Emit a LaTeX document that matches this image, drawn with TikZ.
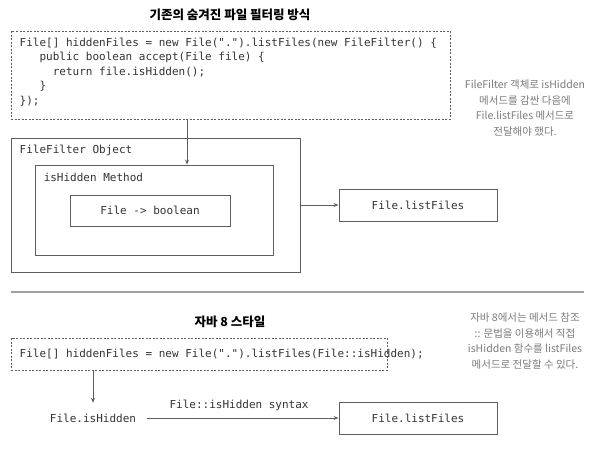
\documentclass[tikz,border=0pt]{standalone}
\usepackage{fontspec}
\setmonofont{DejaVu Sans Mono}
\newfontfamily\krfont{Noto Sans CJK KR}
\usepackage{tikz}
\usetikzlibrary{arrows.meta,positioning,calc}
\definecolor{line-gray}{HTML}{5E5E5E}
\definecolor{text-gray}{HTML}{333333}
\definecolor{note-gray}{HTML}{7A7A7A}
\definecolor{rule-gray}{HTML}{A0A0A0}
\tikzstyle{codefont}=[font=\ttfamily\fontsize{11}{14.5}\selectfont, text=text-gray]
\tikzstyle{box}=[draw=line-gray, line width=0.9pt, inner sep=0pt, codefont]
\tikzstyle{dashbox}=[box, dash pattern=on 2pt off 1.5pt]
\tikzstyle{heading}=[font=\krfont\bfseries\fontsize{12.5}{15}\selectfont, text=black]
\tikzstyle{note}=[font=\krfont\fontsize{10.5}{15.5}\selectfont, text=note-gray, align=center]
\tikzstyle{flow}=[draw=line-gray, line width=0.9pt, -{Stealth[length=5pt,width=4pt]}]

\begin{document}
\begin{tikzpicture}[x=1pt, y=-1pt]
	\useasboundingbox (0,0) rectangle (599,471);
	% old way
	\node[heading] (title1) at (230,15) {기존의 숨겨진 파일 필터링 방식};
	\node[dashbox, minimum width=439pt, minimum height=88pt] (code1) at (230.5,75) {};
	\node[codefont, anchor=north west, align=left, inner sep=0pt] (code1txt) at ($(code1.north west)+(9,7)$)
		{File[] hiddenFiles = new File(".").listFiles(new FileFilter() \{\\
		\phantom{xxx}public boolean accept(File file) \{\\
		\phantom{xxxxx}return file.isHidden();\\
		\phantom{xxx}\}\\
		\});};
	\node[box, minimum width=289pt, minimum height=134pt] (filterobj) at (155.5,205) {};
	\node[codefont, anchor=north west, inner sep=0pt] (filterlbl) at ($(filterobj.north west)+(9,7)$) {FileFilter Object};
	\node[box, minimum width=238pt, minimum height=90pt] (method) at (154,210) {};
	\node[codefont, anchor=north west, inner sep=0pt] (methodlbl) at ($(method.north west)+(9,8)$) {isHidden Method};
	\node[box, minimum width=160pt, minimum height=31pt] (lambda) at (150,210.5) {File -> boolean};
	\node[box, minimum width=158pt, minimum height=32pt] (list1) at (418,205) {File.listFiles};
	\coordinate (drop1) at (187,0);
	\draw[flow] (code1.south -| drop1) -- (method.north -| drop1);
	\draw[flow] (filterobj.east) -- (list1.west);
	\node[note] (note1) at (525,108) {FileFilter 객체로 isHidden\\메서드를 감싼 다음에\\File.listFiles 메서드로\\전달해야 했다.};
	% divider
	\draw[rule-gray, line width=1.6pt] (11,292) -- (584,292);
	% java 8
	\node[heading] (title2) at (230,322) {자바 8 스타일};
	\node[dashbox, minimum width=376pt, minimum height=32pt] (code2) at (199,354) {};
	\node[codefont, anchor=west, inner sep=0pt] (code2txt) at ($(code2.west)+(9,0)$)
		{File[] hiddenFiles = new File(".").listFiles(File::isHidden);};
	\node[note] (note2) at (525,341) {자바 8에서는 메서드 참조\\:: 문법을 이용해서 직접\\isHidden 함수를 listFiles\\메서드로 전달할 수 있다.};
	\node[codefont, inner xsep=11pt, minimum height=30pt] (hidden) at (93,418) {File.isHidden};
	\node[box, minimum width=158pt, minimum height=32pt] (list2) at (418,418) {File.listFiles};
	\draw[flow] (code2.south -| hidden.north) -- (hidden.north);
	\draw[flow] (hidden.east) -- node[codefont, above=3pt, pos=0.48] {File::isHidden syntax} (list2.west);
\end{tikzpicture}
\end{document}
